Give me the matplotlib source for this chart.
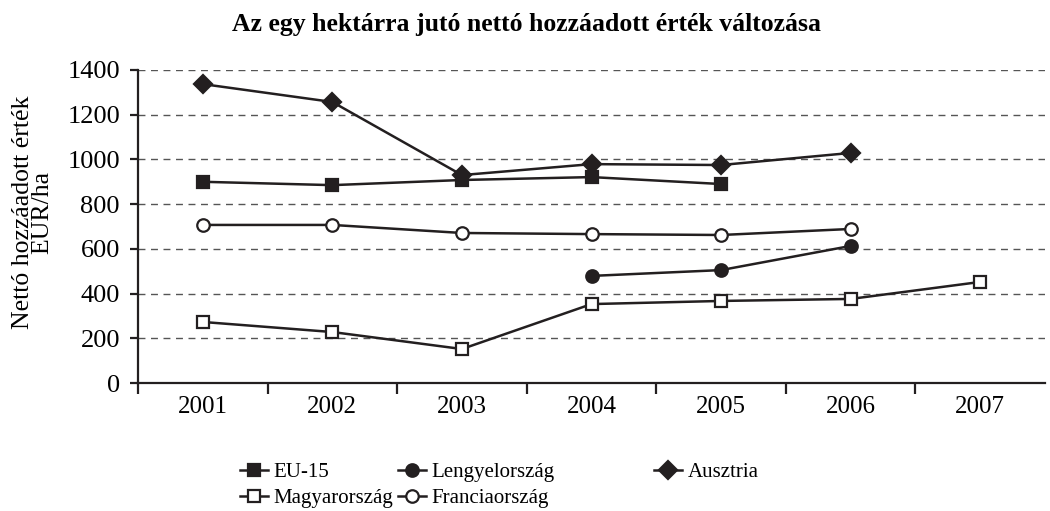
import numpy as np
import matplotlib
matplotlib.use("Agg")
import matplotlib.pyplot as plt

plt.rcParams['font.family'] = ['Liberation Serif', 'DejaVu Serif']

years = ['2001', '2002', '2003', '2004', '2005', '2006', '2007']
eu15 = [900, 885, 908, 921, 890, None, None]
lengyel = [None, None, None, 479, 505, 613, None]
ausztria = [1337, 1257, 930, 979, 975, 1029, None]
magyar = [273, 228, 152, 353, 367, 376, 452]
francia = [707, 707, 671, 666, 662, 689, None]

INK = '#231f20'


def series(vals):
    return np.array([np.nan if v is None else v for v in vals], dtype=float)


fig = plt.figure(figsize=(10.5, 5.11), dpi=100)
ax = fig.add_axes([138 / 1050, (511 - 383) / 511, (1045 - 138) / 1050, (383 - 70) / 511])

x = np.arange(len(years))
style = dict(color=INK, linewidth=1.8, markeredgecolor=INK, markeredgewidth=1.6)
h_eu, = ax.plot(x, series(eu15), marker='s', markersize=8.5, markerfacecolor=INK, label='EU-15', **style)
h_pl, = ax.plot(x, series(lengyel), marker='o', markersize=9, markerfacecolor=INK, label='Lengyelország', **style)
h_at, = ax.plot(x, series(ausztria), marker='D', markersize=9.5, markerfacecolor=INK, label='Ausztria', **style)
h_hu, = ax.plot(x, series(magyar), marker='s', markersize=8.5, markerfacecolor='white', label='Magyarország', **style)
h_fr, = ax.plot(x, series(francia), marker='o', markersize=9, markerfacecolor='white', label='Franciaország', **style)

ax.set_xlim(-0.5, len(years) - 0.5)
ax.set_ylim(0, 1400)
ax.set_yticks(np.arange(0, 1401, 200))
ax.set_xticks(x)
ax.set_xticklabels(years)
ax.set_xticks(np.arange(-0.5, len(years) - 0.5, 1), minor=True)
ax.tick_params(axis='x', which='major', length=0, pad=9, labelsize=18)
ax.tick_params(axis='x', which='minor', length=8, width=1.6, direction='out', color=INK)
ax.tick_params(axis='y', length=6, width=1.6, color=INK, labelsize=19, pad=7)

for v in range(200, 1401, 200):
    ax.axhline(v, color='#555555', linestyle=(0, (5, 4)), linewidth=1.0, zorder=0)

for s in ['top', 'right']:
    ax.spines[s].set_visible(False)
for s in ['left', 'bottom']:
    ax.spines[s].set_linewidth(1.6)
    ax.spines[s].set_color(INK)

fig.text(0.031, 0.585, 'Nettó hozzáadott érték\nEUR/ha', rotation=90, ha='center', va='center',
         multialignment='center', fontsize=18.5, linespacing=0.8)
fig.text(0.501, 0.952, 'Az egy hektárra jutó nettó hozzáadott érték változása',
         ha='center', va='center', fontsize=18.5, fontweight='bold')

leg_kw = dict(frameon=False, fontsize=15, handlelength=1.3, handletextpad=0.3,
              labelspacing=0.3, borderpad=0, loc='upper left')
fig.legend(handles=[h_eu, h_hu], bbox_to_anchor=(230 / 1050, 1 - 452 / 511), **leg_kw)
fig.legend(handles=[h_pl, h_fr], bbox_to_anchor=(388 / 1050, 1 - 452 / 511), **leg_kw)
fig.legend(handles=[h_at], bbox_to_anchor=(644 / 1050, 1 - 452 / 511), **leg_kw)

fig.savefig('out.png', dpi=100)
